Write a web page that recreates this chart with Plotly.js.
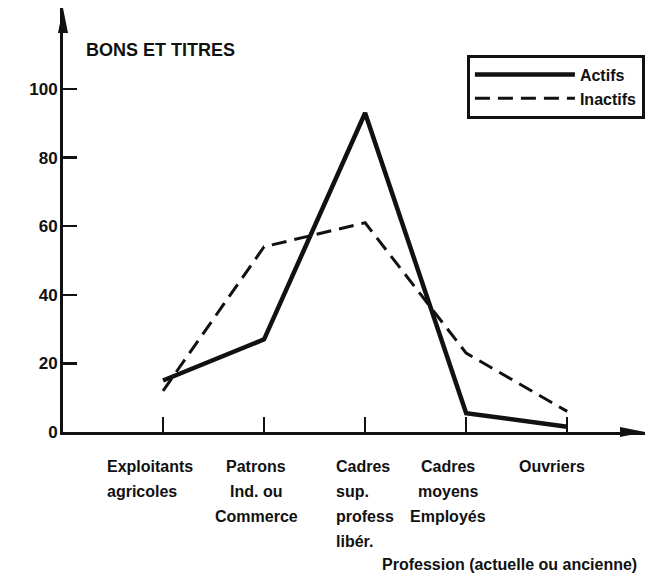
<!DOCTYPE html>
<html>
<head>
<meta charset="utf-8">
<script src="https://cdn.plot.ly/plotly-3.0.1.min.js"></script>
<style>html,body{margin:0;padding:0;background:#fff;}#chart{width:655px;height:578px;}</style>
</head>
<body>
<div id="chart"></div>
<script>
// ---- data ----
const categories = ['Exploitants agricoles', 'Patrons Ind. ou Commerce', 'Cadres sup. profess libér.', 'Cadres moyens Employés', 'Ouvriers'];
const categoryLabelLines = [
  ['Exploitants', 'agricoles'],
  ['Patrons', 'Ind. ou', 'Commerce'],
  ['Cadres', 'sup.', 'profess', 'libér.'],
  ['Cadres', 'moyens', 'Employés'],
  ['Ouvriers']
];
const actifs = [15, 27, 93, 5.5, 1.5];
const inactifs = [12, 54, 61, 23, 6];
const yTickValues = [0, 20, 40, 60, 80, 100];
const yTickLabels = ['0', '20', '40', '60', '80', '100'];
const seriesNames = ['Actifs', 'Inactifs'];
const chartTitle = 'BONS ET TITRES';
const xAxisTitle = 'Profession (actuelle ou ancienne)';

// ---- styles ----
const FONT = 'Liberation Sans, Arial, sans-serif';
const INK = '#111';
const plotH = 424;
const labelPlacement = [
  {anchor: 'left', shift: -58},
  {anchor: 'center', shift: -8},
  {anchor: 'left', shift: -31},
  {anchor: 'center', shift: -18},
  {anchor: 'left', shift: -50}
];
const firstLineY = 466, lineStep = 25;
const axisY = 432;

const traces = [
  {x: categories, y: actifs, name: seriesNames[0], type: 'scatter', mode: 'lines',
   line: {color: INK, width: 4.5}},
  {x: categories, y: inactifs, name: seriesNames[1], type: 'scatter', mode: 'lines',
   line: {color: INK, width: 3, dash: '15px,8px'}}
];

const annotations = [];
categoryLabelLines.forEach((lines, i) => {
  lines.forEach((t, j) => {
    annotations.push({
      x: categories[i], xref: 'x',
      y: -((firstLineY + j * lineStep) - axisY) / plotH, yref: 'paper',
      text: t, showarrow: false,
      xanchor: labelPlacement[i].anchor, yanchor: 'middle',
      xshift: labelPlacement[i].shift,
      font: {family: FONT, size: 16, weight: 'bold', color: INK}
    });
  });
});
annotations.push({
  x: 1.0, xref: 'paper', y: -(564 - axisY) / plotH, yref: 'paper',
  text: xAxisTitle, showarrow: false, xanchor: 'right', yanchor: 'middle', xshift: -6,
  font: {family: FONT, size: 16, weight: 'bold', color: INK}
});

const layout = {
  width: 655, height: 578,
  margin: {l: 63, r: 10, t: 8, b: 146},
  paper_bgcolor: '#fff', plot_bgcolor: '#fff',
  title: {text: chartTitle, x: 86 / 655, xref: 'container', xanchor: 'left',
          y: 1 - 50 / 578, yref: 'container', yanchor: 'middle',
          font: {family: FONT, size: 18, weight: 'bold', color: INK}},
  xaxis: {type: 'category', range: [-0.99, 4.77], showgrid: false, zeroline: false,
          showline: true, linecolor: INK, linewidth: 2.5,
          ticks: 'inside', ticklen: 15, tickwidth: 2, tickcolor: INK,
          showticklabels: false, fixedrange: true},
  yaxis: {range: [0, 123.6], showgrid: false, zeroline: false,
          showline: true, linecolor: INK, linewidth: 3,
          tickvals: yTickValues, ticktext: yTickLabels,
          ticks: 'inside', ticklen: 14, tickwidth: 2.5, tickcolor: INK,
          ticklabelstandoff: -1,
          tickfont: {family: FONT, size: 17, weight: 'bold', color: INK}, fixedrange: true},
  showlegend: true,
  legend: {x: 0.694, y: 0.890, xanchor: 'left', yanchor: 'top',
           bordercolor: INK, borderwidth: 3, bgcolor: '#fff',
           font: {family: FONT, size: 16, weight: 'bold', color: INK},
           itemwidth: 100, tracegroupgap: 0},
  annotations: annotations,
  shapes: [
    {type: 'path', xref: 'paper', yref: 'paper', xsizemode: 'pixel', ysizemode: 'pixel',
     xanchor: 0, yanchor: 1, path: 'M-5,-25 L0,0 L5,-25 Z', fillcolor: INK, line: {width: 0}},
    {type: 'path', xref: 'paper', yref: 'paper', xsizemode: 'pixel', ysizemode: 'pixel',
     xanchor: 1, yanchor: 0, path: 'M-25,-5 L0,0 L-25,5 Z', fillcolor: INK, line: {width: 0}}
  ]
};

Plotly.newPlot('chart', traces, layout, {staticPlot: true, displayModeBar: false});
</script>
</body>
</html>
